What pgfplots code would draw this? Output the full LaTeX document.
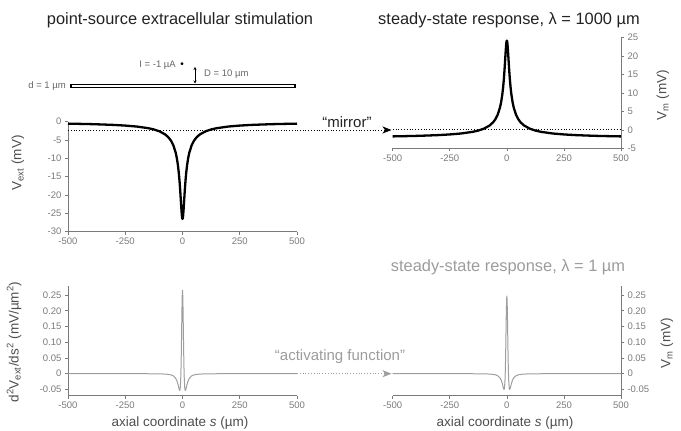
\documentclass[border=0pt]{standalone}
\usepackage{pgfplots}
\pgfplotsset{compat=1.18}
\usepackage{fontspec}
\setmainfont{Liberation Sans}
\usetikzlibrary{arrows.meta}

\definecolor{axgray}{HTML}{7A7A7A}
\definecolor{lblgray}{HTML}{9C9C9C}
\definecolor{txtdark}{HTML}{222222}
\definecolor{curvegray}{HTML}{9E9E9E}
\definecolor{schgray}{HTML}{666666}

\pgfplotsset{
  base/.style={
    scale only axis, xmin=-500, xmax=500, clip=false,
    axis x line*=bottom,
    tick align=outside, major tick length=3pt,
    xtick={-500,-250,0,250,500}, xticklabels={-500,-250,0,250,500},
    tick label style={font=\fontsize{9.5}{11}\selectfont, text=axgray},
    every tick/.style={axgray, line width=0.7pt},
    axis line style={axgray, line width=0.9pt, -},
    x axis line style={-}, y axis line style={-},
    minor tick num=0,
  },
}

\begin{document}
\begin{tikzpicture}
\useasboundingbox (0,0) rectangle (681pt,431pt);

% ---------- top left: extracellular potential ----------
\begin{axis}[base, axis y line*=left, axis line style={-},
  at={(68pt,199.3pt)}, anchor=south west, width=229pt, height=110pt,
  ymin=-30, ymax=0,
  ytick={-30,-25,-20,-15,-10,-5,0}, yticklabels={-30,-25,-20,-15,-10,-5,0}]
\addplot[black, dotted, line width=0.8pt] coordinates {(-500,-2.3) (500,-2.3)};
\addplot[black, line width=2.3pt, line join=round] coordinates {
(-500,-0.53)(-450,-0.59)(-400,-0.66)(-350,-0.76)(-300,-0.88)(-250,-1.06)(-200,-1.32)
(-150,-1.76)(-125,-2.11)(-100,-2.64)(-75,-3.50)(-60,-4.36)(-50,-5.20)(-40,-6.43)
(-30,-8.38)(-25,-9.84)(-20,-11.85)(-16,-14.04)(-13,-16.16)(-10,-18.74)(-7,-21.71)
(-5,-23.70)(-3,-25.38)(-2,-25.99)(-1,-26.37)(0,-26.50)
(1,-26.37)(2,-25.99)(3,-25.38)(5,-23.70)(7,-21.71)(10,-18.74)(13,-16.16)(16,-14.04)
(20,-11.85)(25,-9.84)(30,-8.38)(40,-6.43)(50,-5.20)(60,-4.36)(75,-3.50)(100,-2.64)
(125,-2.11)(150,-1.76)(200,-1.32)(250,-1.06)(300,-0.88)(350,-0.76)(400,-0.66)
(450,-0.59)(500,-0.53)};
\end{axis}

% ---------- top right: lambda = 1000 ----------
\begin{axis}[base, axis y line*=right, axis line style={-},
  at={(392.7pt,282.7pt)}, anchor=south west, width=228.3pt, height=110.6pt,
  ymin=-5, ymax=25,
  ytick={-5,0,5,10,15,20,25}, yticklabels={-5,0,5,10,15,20,25}]
\addplot[black, dotted, line width=0.8pt] coordinates {(-500,0) (500,0)};
\addplot[black, line width=2.3pt, line join=round] coordinates {
(-500,-1.77)(-450,-1.71)(-400,-1.64)(-350,-1.54)(-300,-1.42)(-250,-1.24)(-200,-0.98)
(-150,-0.54)(-125,-0.19)(-100,0.34)(-75,1.20)(-60,2.06)(-50,2.90)(-40,4.13)
(-30,6.08)(-25,7.54)(-20,9.55)(-16,11.74)(-13,13.86)(-10,16.44)(-7,19.41)
(-5,21.40)(-3,23.08)(-2,23.69)(-1,24.07)(0,24.20)
(1,24.07)(2,23.69)(3,23.08)(5,21.40)(7,19.41)(10,16.44)(13,13.86)(16,11.74)
(20,9.55)(25,7.54)(30,6.08)(40,4.13)(50,2.90)(60,2.06)(75,1.20)(100,0.34)
(125,-0.19)(150,-0.54)(200,-0.98)(250,-1.24)(300,-1.42)(350,-1.54)(400,-1.64)
(450,-1.71)(500,-1.77)};
\end{axis}

% ---------- bottom left: activating function ----------
\begin{axis}[base, axis y line*=left, axis line style={-},
  at={(68pt,35.3pt)}, anchor=south west, width=229pt, height=110pt,
  ymin=-0.07, ymax=0.28,
  ytick={-0.05,0,0.05,0.10,0.15,0.20,0.25},
  yticklabels={-0.05,0,0.05,0.10,0.15,0.20,0.25}]
\addplot[curvegray, line width=1pt, line join=round] coordinates {
(-500,0)(-400,0)(-300,0)(-200,-0.00007)(-150,-0.00016)(-100,-0.0005)(-70,-0.0015)
(-50,-0.0038)(-40,-0.0069)(-30,-0.0143)(-25,-0.0215)(-20,-0.0332)(-17,-0.0424)
(-14,-0.0513)(-12,-0.0536)(-10,-0.0469)(-8,-0.0215)(-7,0.0020)(-6,0.0344)(-5,0.0759)
(-4,0.1244)(-3,0.1752)(-2,0.2210)(-1,0.2533)(0,0.265)
(1,0.2533)(2,0.2210)(3,0.1752)(4,0.1244)(5,0.0759)(6,0.0344)(7,0.0020)(8,-0.0215)
(10,-0.0469)(12,-0.0536)(14,-0.0513)(17,-0.0424)(20,-0.0332)(25,-0.0215)(30,-0.0143)
(40,-0.0069)(50,-0.0038)(70,-0.0015)(100,-0.0005)(150,-0.00016)(200,-0.00007)
(300,0)(400,0)(500,0)};
\end{axis}

% ---------- bottom right: lambda = 1 ----------
\begin{axis}[base, axis y line*=right, axis line style={-},
  at={(392.7pt,35.3pt)}, anchor=south west, width=228.3pt, height=110pt,
  ymin=-0.07, ymax=0.28,
  ytick={-0.05,0,0.05,0.10,0.15,0.20,0.25},
  yticklabels={-0.05,0,0.05,0.10,0.15,0.20,0.25}]
\addplot[curvegray, line width=1pt, line join=round] coordinates {
(-500,0)(-400,0)(-300,0)(-200,0)(-150,-0.00015)(-100,-0.0005)(-70,-0.0014)
(-50,-0.0035)(-40,-0.0065)(-30,-0.0135)(-25,-0.020)(-20,-0.031)(-17,-0.040)
(-14,-0.048)(-12,-0.050)(-10,-0.043)(-8,-0.019)(-7,0.004)(-6,0.034)(-5,0.073)
(-4,0.118)(-3,0.165)(-2,0.207)(-1,0.236)(0,0.247)
(1,0.236)(2,0.207)(3,0.165)(4,0.118)(5,0.073)(6,0.034)(7,0.004)(8,-0.019)
(10,-0.043)(12,-0.050)(14,-0.048)(17,-0.040)(20,-0.031)(25,-0.020)(30,-0.0135)
(40,-0.0065)(50,-0.0035)(70,-0.0014)(100,-0.0005)(150,-0.00015)(200,0)
(300,0)(400,0)(500,0)};
\end{axis}

% ---------- arrows between panels ----------
\draw[black, dotted, line width=0.8pt] (297pt,301pt) -- (385pt,301pt);
\draw[black, line width=0.8pt, -{Stealth[length=9pt,width=7pt,inset=2.5pt]}] (389pt,301pt) -- (391.5pt,301pt);
\draw[curvegray, dotted, line width=0.8pt] (297pt,57.3pt) -- (385pt,57.3pt);
\draw[curvegray, line width=0.8pt, -{Stealth[length=9pt,width=7pt,inset=2.5pt]}] (389pt,57.3pt) -- (391.5pt,57.3pt);
\node[font=\fontsize{15}{18}\selectfont, text=txtdark] at (347pt,309pt) {“mirror”};
\node[font=\fontsize{15}{18}\selectfont, text=lblgray] at (340pt,74pt) {“activating function”};

% ---------- titles ----------
\node[font=\fontsize{16.4}{19}\selectfont, text=txtdark] at (180pt,411pt) {point-source extracellular stimulation};
\node[font=\fontsize{16.4}{19}\selectfont, text=txtdark] at (509pt,411pt) {steady-state response, λ = 1000 µm};
\node[font=\fontsize{16.4}{19}\selectfont, text=lblgray] at (508pt,164pt) {steady-state response, λ = 1 µm};

% ---------- axis labels ----------
\node[rotate=90, font=\fontsize{13.5}{16}\selectfont, text=txtdark!80] at (18pt,268pt) {V\textsubscript{ext} (mV)};
\node[rotate=90, font=\fontsize{13.5}{16}\selectfont, text=txtdark!80] at (663pt,336pt) {V\textsubscript{m} (mV)};
\node[rotate=90, font=\fontsize{13.5}{16}\selectfont, text=txtdark!80] at (14pt,89pt) {d\textsuperscript{2}V\textsubscript{ext}/ds\textsuperscript{2} (mV/µm\textsuperscript{2})};
\node[rotate=90, font=\fontsize{13.5}{16}\selectfont, text=txtdark!80] at (667pt,88pt) {V\textsubscript{m} (mV)};
\node[font=\fontsize{13.5}{16}\selectfont, text=txtdark!80] at (180pt,8pt) {axial coordinate \textit{s} (µm)};
\node[font=\fontsize{13.5}{16}\selectfont, text=txtdark!80] at (505pt,8pt) {axial coordinate \textit{s} (µm)};

% ---------- schematic ----------
\draw[black, line width=0.6pt, fill=white] (70pt,343.2pt) rectangle (295pt,346.8pt);
\fill[black] (70pt,343pt) rectangle (71.5pt,347pt);
\fill[black] (293.5pt,343pt) rectangle (295pt,347pt);
\node[anchor=east, font=\fontsize{9.5}{11}\selectfont, text=schgray, inner sep=1pt] at (67pt,345pt) {d = 1 µm};
\node[anchor=east, font=\fontsize{9.5}{11}\selectfont, text=schgray, inner sep=1pt] at (177pt,366pt) {I = -1 µA};
\node[font=\fontsize{10}{11}\selectfont, text=black, inner sep=0pt] at (182pt,366pt) {•};
\draw[black, line width=0.6pt, {Stealth[length=3pt,width=3pt]}-{Stealth[length=3pt,width=3pt]}] (195pt,364pt) -- (195pt,347.5pt);
\node[anchor=west, font=\fontsize{9.5}{11}\selectfont, text=schgray, inner sep=1pt] at (203pt,357pt) {D = 10 µm};
\end{tikzpicture}
\end{document}
